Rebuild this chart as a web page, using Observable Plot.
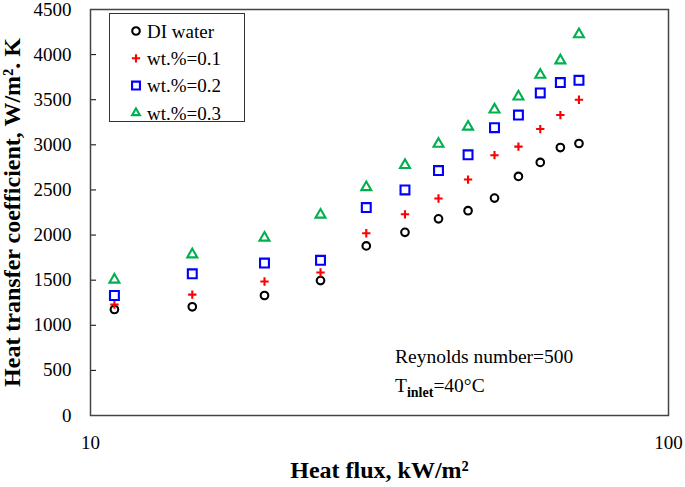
<!DOCTYPE html>
<html><head><meta charset="utf-8">
<script src="https://cdn.jsdelivr.net/npm/d3@7"></script>
<script src="https://cdn.jsdelivr.net/npm/@observablehq/plot@0.6"></script>
<style>
body{margin:0;background:#fff;}
#wrap{position:relative;width:685px;height:487px;font-family:"Liberation Serif","Times New Roman",serif;color:#000;}
#wrap svg{font-family:"Liberation Serif","Times New Roman",serif;}
g[aria-label="x-axis label"] text, g[aria-label="y-axis label"] text{font-weight:bold;font-size:24px;}
#legend{position:absolute;left:109px;top:13px;width:136px;height:109px;border:1px solid #333;background:#fff;box-sizing:border-box;}
#note{position:absolute;left:395px;top:342px;font-size:19.5px;line-height:29px;}
#note sub{font-size:14px;font-weight:bold;vertical-align:-5px;line-height:0;}
</style></head>
<body><div id="wrap"></div>
<script>
const heatFlux = [11, 15, 20, 25, 30, 35, 40, 45, 50, 55, 60, 65, 70];
const diWater = [1175, 1205, 1330, 1495, 1880, 2030, 2180, 2270, 2410, 2650, 2805, 2970, 3015];
const wt01 = [1230, 1340, 1485, 1585, 2020, 2230, 2405, 2615, 2885, 2980, 3175, 3330, 3500];
const wt02 = [1330, 1570, 1690, 1720, 2305, 2500, 2715, 2890, 3190, 3330, 3575, 3690, 3715];
const wt03 = [1505, 1785, 1970, 2225, 2530, 2775, 3010, 3200, 3390, 3535, 3775, 3935, 4225];
const seriesNames = ["DI water", "wt.%=0.1", "wt.%=0.2", "wt.%=0.3"];
const seriesValues = [diWater, wt01, wt02, wt03];
const seriesSymbols = ["circle", "plus", "square", "triangle"];
const seriesColors = ["#000000", "#ff0000", "#0000ff", "#00b050"];
const seriesR = [3.8, 2.8, 5.0, 3.7];
const xTicks = [10, 100];
const yTicks = [0, 500, 1000, 1500, 2000, 2500, 3000, 3500, 4000, 4500];

const dotMarks = seriesValues.map((vals, k) =>
  Plot.dot(heatFlux.map((x, i) => ({x, y: vals[i]})), {
    x: "x", y: "y", symbol: seriesSymbols[k], stroke: seriesColors[k],
    r: seriesR[k], strokeWidth: 2.1
  })
);

const chart = Plot.plot({
  width: 685, height: 487,
  marginLeft: 90, marginRight: 17, marginTop: 9, marginBottom: 72,
  x: {type: "log", domain: [10, 100]},
  y: {domain: [0, 4500]},
  style: {fontSize: "19px", color: "#000", background: "#fff"},
  marks: [
    Plot.axisX({ticks: xTicks, tickFormat: d => String(d), tickSize: 0, tickPadding: 20, fontSize: 19,
      label: "Heat flux, kW/m²", labelAnchor: "center", labelArrow: "none", labelOffset: 62}),
    Plot.axisY({ticks: yTicks, tickFormat: d => String(d), tickSize: -6, tickPadding: 25, fontSize: 19,
      label: "Heat transfer coefficient, W/m². K", labelAnchor: "center", labelArrow: "none", labelOffset: 88}),
    Plot.frame({stroke: "#444", strokeWidth: 1.5}),
    ...dotMarks
  ]
});
const wrap = document.getElementById("wrap");
wrap.appendChild(chart);

// legend
const legend = document.createElement("div");
legend.id = "legend";
const lsvg = d3.create("svg").attr("width", 136).attr("height", 109)
  .style("font-family", '"Liberation Serif","Times New Roman",serif');
const d3Syms = {circle: d3.symbolCircle, plus: d3.symbolPlus, square: d3.symbolSquare2, triangle: d3.symbolTriangle2};
seriesNames.forEach((name, k) => {
  const cy = 17 + k * 27.3;
  lsvg.append("path")
    .attr("transform", `translate(26,${cy})`)
    .attr("d", d3.symbol(d3Syms[seriesSymbols[k]], Math.PI * seriesR[k] * seriesR[k])())
    .attr("fill", "none").attr("stroke", seriesColors[k]).attr("stroke-width", 2.1);
  lsvg.append("text").attr("x", 37).attr("y", cy).attr("dy", "0.35em")
    .attr("font-size", 19).text(name);
});
legend.appendChild(lsvg.node());
wrap.appendChild(legend);

// annotation
const note = document.createElement("div");
note.id = "note";
note.innerHTML = 'Reynolds number=500<br>T<sub>inlet</sub>=40°C';
wrap.appendChild(note);
</script>
</body></html>
